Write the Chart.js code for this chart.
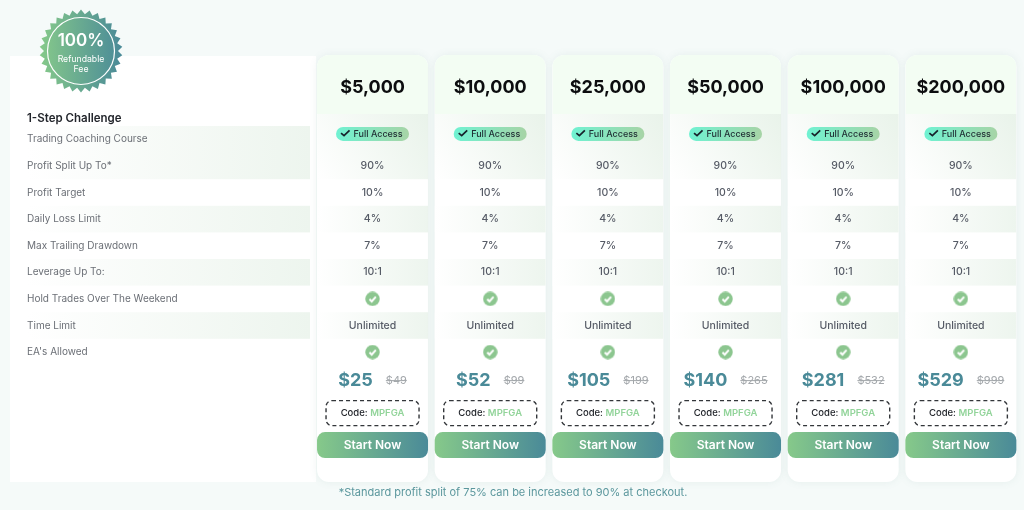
<!DOCTYPE html>
<html>
<head>
<meta charset="utf-8">
<title>1-Step Challenge</title>
<script src="https://cdn.jsdelivr.net/npm/chart.js@4"></script>
<style>
  html, body { margin: 0; padding: 0; background: #f5faf9; overflow: hidden; }
  canvas { display: block; }
</style>
</head>
<body>
<canvas id="plans" width="1024" height="510"></canvas>
<script>
const plans = ['$5,000', '$10,000', '$25,000', '$50,000', '$100,000', '$200,000']
const features = ['Trading Coaching Course', 'Profit Split Up To*', 'Profit Target', 'Daily Loss Limit',
  'Max Trailing Drawdown', 'Leverage Up To:', 'Hold Trades Over The Weekend', 'Time Limit', "EA's Allowed"]
const extraRows = ['Price', 'Code', 'Start']
const profitSplit = ['90%', '90%', '90%', '90%', '90%', '90%']
const profitTarget = ['10%', '10%', '10%', '10%', '10%', '10%']
const dailyLoss = ['4%', '4%', '4%', '4%', '4%', '4%']
const maxDrawdown = ['7%', '7%', '7%', '7%', '7%', '7%']
const leverage = ['10:1', '10:1', '10:1', '10:1', '10:1', '10:1']
const timeLimit = ['Unlimited', 'Unlimited', 'Unlimited', 'Unlimited', 'Unlimited', 'Unlimited']
const salePrices = [25, 52, 105, 140, 281, 529]
const listPrices = [49, 99, 199, 265, 532, 999]
const promoCode = 'MPFGA'
const checkRows = ['Hold Trades Over The Weekend', "EA's Allowed"]

const FONT = 'Inter, "Noto Sans", sans-serif'
const GREEN = '#86c98a'
const TEAL = '#4a8a98'

function font(weight, size) { return weight + ' ' + size + 'px ' + FONT }

function hGradient(ctx, x0, x1, c0, c1) {
  const g = ctx.createLinearGradient(x0, 0, x1, 0)
  g.addColorStop(0, c0)
  g.addColorStop(1, c1)
  return g
}

function checkIcon() {
  const c = document.createElement('canvas')
  c.width = 15
  c.height = 15
  const g = c.getContext('2d')
  g.fillStyle = '#8cc68f'
  g.beginPath()
  g.arc(7.5, 7.5, 7.2, 0, Math.PI * 2)
  g.fill()
  g.strokeStyle = '#fff'
  g.lineWidth = 2
  g.beginPath()
  g.moveTo(4.4, 7.7)
  g.lineTo(6.7, 10)
  g.lineTo(10.8, 5.4)
  g.stroke()
  return c
}

function drawMedal(ctx) {
  const cx = 81, cy = 51, spikes = 30
  ctx.save()
  ctx.fillStyle = hGradient(ctx, 40, 122, GREEN, TEAL)
  ctx.beginPath()
  for (let i = 0; i < spikes * 2; i++) {
    const r = i % 2 ? 37 : 41.5
    const a = i * Math.PI / spikes - Math.PI / 2
    ctx.lineTo(cx + r * Math.cos(a), cy + r * Math.sin(a))
  }
  ctx.closePath()
  ctx.fill()
  ctx.strokeStyle = '#fff'
  ctx.lineWidth = 1.2
  ctx.beginPath()
  ctx.arc(cx, cy, 33.5, 0, Math.PI * 2)
  ctx.stroke()
  ctx.fillStyle = '#fff'
  ctx.textAlign = 'center'
  ctx.textBaseline = 'middle'
  ctx.font = font(600, 17)
  ctx.fillText('100%', cx, 41)
  ctx.font = font(400, 8.7)
  ctx.fillText('Refundable', cx, 59)
  ctx.fillText('Fee', cx, 69)
  ctx.restore()
}

// panels and row bands sit under the axes
const backdrop = {
  id: 'backdrop',
  beforeDraw(chart) {
    const { ctx, scales: { x, y } } = chart
    const rowH = y.getPixelForValue(1) - y.getPixelForValue(0)
    const bands = [3, 5, 7]
    ctx.save()

    ctx.fillStyle = '#fff'
    ctx.fillRect(10, 56, 306, 426)
    ctx.fillStyle = hGradient(ctx, 27, 310, '#ffffff', '#edf5ee')
    ctx.fillRect(27, y.getPixelForValue(0) - rowH / 2, 283, rowH * 2)
    bands.forEach(r => ctx.fillRect(27, y.getPixelForValue(r) - rowH / 2, 283, rowH))

    plans.forEach((p, i) => {
      const cx = x.getPixelForValue(i), l = cx - 55.5, w = 111
      ctx.save()
      ctx.shadowColor = 'rgba(90,140,130,0.10)'
      ctx.shadowBlur = 8
      ctx.fillStyle = '#fff'
      ctx.beginPath()
      ctx.roundRect(l, 55, w, 427, 12)
      ctx.fill()
      ctx.restore()

      ctx.save()
      ctx.beginPath()
      ctx.roundRect(l, 55, w, 427, 12)
      ctx.clip()
      ctx.fillStyle = '#f3fdf3'
      ctx.fillRect(l, 55, w, 59)
      const first = ctx.createLinearGradient(l, 179, l + w, 114)
      first.addColorStop(0, '#ffffff')
      first.addColorStop(1, '#e9f3ea')
      ctx.fillStyle = first
      ctx.fillRect(l, 114, w, y.getPixelForValue(1) + rowH / 2 - 114)
      ctx.fillStyle = hGradient(ctx, l, l + w, '#ffffff', '#edf5ee')
      bands.forEach(r => ctx.fillRect(l, y.getPixelForValue(r) - rowH / 2, w, rowH))
      ctx.restore()
    })
    ctx.restore()
    drawMedal(ctx)
  }
}

// text cells, placed from the scales
const cells = {
  id: 'cells',
  afterDatasetsDraw(chart) {
    const { ctx, scales: { x, y } } = chart
    const textRows = [
      ['Profit Split Up To*', profitSplit],
      ['Profit Target', profitTarget],
      ['Daily Loss Limit', dailyLoss],
      ['Max Trailing Drawdown', maxDrawdown],
      ['Leverage Up To:', leverage],
      ['Time Limit', timeLimit]
    ]
    const priceY = y.getPixelForValue(features.length) + 1.4
    const codeY = y.getPixelForValue(features.length + 1) + 7.8
    const startY = y.getPixelForValue(features.length + 2) + 13.2
    const accessY = y.getPixelForValue(0) - 5.4

    ctx.save()
    ctx.textBaseline = 'middle'

    ctx.textAlign = 'left'
    ctx.fillStyle = '#22252b'
    ctx.font = font(600, 11.5)
    ctx.fillText('1-Step Challenge', 27, 119)

    ctx.textAlign = 'center'
    ctx.font = font(500, 10.5)
    ctx.fillStyle = '#565b66'
    textRows.forEach(([row, vals]) => {
      const py = y.getPixelForValue(features.indexOf(row))
      vals.forEach((v, i) => ctx.fillText(v, x.getPixelForValue(i), py))
    })

    plans.forEach((p, i) => {
      const cx = x.getPixelForValue(i)

      // full access chip
      ctx.fillStyle = hGradient(ctx, cx - 36.5, cx + 36.5, '#6ff2d2', '#a7d4a6')
      ctx.beginPath()
      ctx.roundRect(cx - 36.5, accessY - 7, 73, 14, 7)
      ctx.fill()
      ctx.strokeStyle = '#17222b'
      ctx.lineWidth = 1.7
      ctx.beginPath()
      ctx.moveTo(cx - 31.5, accessY - 0.8)
      ctx.lineTo(cx - 28.5, accessY + 1.8)
      ctx.lineTo(cx - 23, accessY - 3.6)
      ctx.stroke()
      ctx.fillStyle = '#1f2d33'
      ctx.textAlign = 'left'
      ctx.font = font(500, 9)
      ctx.fillText('Full Access', cx - 19, accessY + 0.5)

      // price pair, centred as one block
      const sale = '$' + salePrices[i], list = '$' + listPrices[i]
      ctx.font = font(700, 18)
      const saleW = ctx.measureText(sale).width
      ctx.font = font(400, 11)
      const listW = ctx.measureText(list).width
      const gap = 13
      const left = cx - (saleW + gap + listW) / 2
      ctx.font = font(700, 18)
      ctx.fillStyle = TEAL
      ctx.fillText(sale, left, priceY)
      ctx.font = font(400, 11)
      ctx.fillStyle = '#a3a7ab'
      ctx.fillText(list, left + saleW + gap, priceY + 0.5)
      ctx.strokeStyle = '#a3a7ab'
      ctx.lineWidth = 1
      ctx.beginPath()
      ctx.moveTo(left + saleW + gap, priceY + 0.5)
      ctx.lineTo(left + saleW + gap + listW, priceY + 0.5)
      ctx.stroke()

      // code box
      ctx.strokeStyle = '#33363a'
      ctx.lineWidth = 1.4
      ctx.setLineDash([4, 3])
      ctx.beginPath()
      ctx.roundRect(cx - 46.5, codeY - 12.5, 93, 25, 6)
      ctx.stroke()
      ctx.setLineDash([])
      ctx.font = font(500, 9.5)
      const label = 'Code: '
      const labelW = ctx.measureText(label).width
      ctx.font = font(600, 9.5)
      const codeW = ctx.measureText(promoCode).width
      const tx = cx - (labelW + codeW) / 2
      ctx.font = font(500, 9.5)
      ctx.fillStyle = '#22252b'
      ctx.fillText(label, tx, codeY)
      ctx.font = font(600, 9.5)
      ctx.fillStyle = '#92d49a'
      ctx.fillText(promoCode, tx + labelW, codeY)

      // start button
      ctx.fillStyle = hGradient(ctx, cx - 55.5, cx + 55.5, GREEN, TEAL)
      ctx.beginPath()
      ctx.roundRect(cx - 55.5, startY - 13, 111, 26, 8)
      ctx.fill()
      ctx.fillStyle = '#fff'
      ctx.textAlign = 'center'
      ctx.font = font(600, 12)
      ctx.fillText('Start Now', cx, startY)
    })

    ctx.fillStyle = '#5b979d'
    ctx.font = font(400, 11)
    ctx.fillText('*Standard profit split of 75% can be increased to 90% at checkout.', 513, 493)
    ctx.restore()
  }
}

new Chart(document.getElementById('plans'), {
  type: 'line',
  data: {
    datasets: [{
      label: 'Included',
      data: checkRows.flatMap(r => plans.map(p => ({ x: p, y: r }))),
      showLine: false,
      pointStyle: checkIcon(),
      pointRadius: 7
    }]
  },
  options: {
    responsive: false,
    animation: false,
    layout: { autoPadding: false, padding: { left: 27, right: 4.3, top: 0, bottom: 64.8 } },
    plugins: { legend: { display: false }, tooltip: { enabled: false } },
    scales: {
      x: {
        type: 'category',
        labels: plans,
        position: 'top',
        offset: true,
        border: { display: false },
        grid: { display: false, drawTicks: false },
        ticks: { color: '#0c0d0f', font: { family: FONT, size: 18, weight: 700 }, padding: 28, maxRotation: 0, autoSkip: false },
        afterFit(scale) {
          scale.height = 126
          scale.paddingLeft = 0
          scale.paddingRight = 0
        }
      },
      y: {
        type: 'category',
        labels: features.concat(extraRows),
        offset: true,
        border: { display: false },
        grid: { display: false, drawTicks: false },
        ticks: {
          color: '#6b6f76',
          font: { family: FONT, size: 10, weight: 400 },
          crossAlign: 'far',
          padding: 0,
          autoSkip: false,
          callback(v) {
            const name = this.getLabelForValue(v)
            return features.includes(name) ? name : ''
          }
        },
        afterFit(scale) {
          scale.width = 286.7
          scale.paddingTop = 0
          scale.paddingBottom = 0
        }
      }
    }
  },
  plugins: [backdrop, cells]
})
</script>
</body>
</html>
